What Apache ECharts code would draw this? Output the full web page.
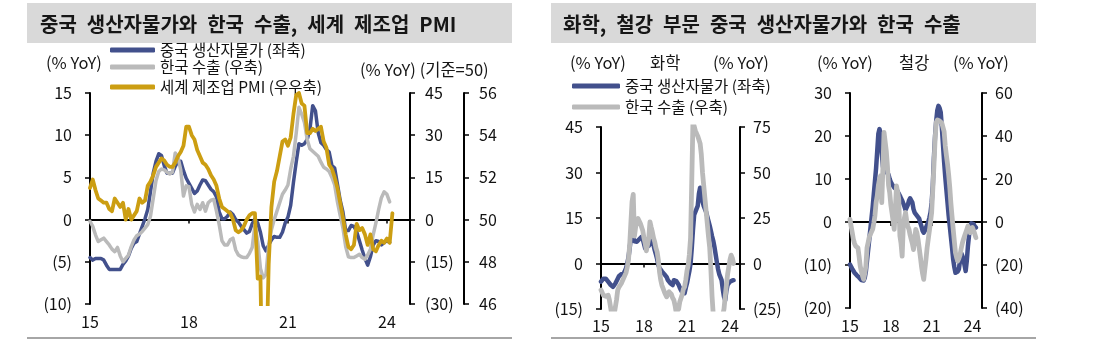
<!DOCTYPE html>
<html>
<head>
<meta charset="utf-8">
<script src="https://cdn.jsdelivr.net/npm/echarts@6/dist/echarts.min.js"></script>
<style>
html,body{margin:0;padding:0;background:#fff}
#c{width:1095px;height:341px}
</style>
</head>
<body>
<div id="c"></div>
<script>
// Monthly series, first value = Jan 2015
const START_YEAR = 2015;
const xTickYears = [2015, 2018, 2021, 2024];

// Left panel: China PPI (% YoY, left axis)
const chinaPpi = [
  -4.5,-4.8,-4.6,-4.6,-4.6,-4.8,-5.4,-5.9,-5.9,-5.9,-5.9,-5.9,
  -5.3,-4.9,-4.3,-3.4,-2.8,-2.6,-1.7,-0.8,0.1,1.2,3.3,5.5,
  6.9,7.8,7.6,6.4,5.5,5.5,5.5,6.3,6.9,6.9,5.8,4.9,
  4.3,3.7,3.1,3.4,4.1,4.7,4.6,4.1,3.6,3.3,2.7,0.9,
  0.1,0.1,0.4,0.9,0.6,0.0,-0.3,-0.8,-1.2,-1.6,-1.4,-0.5,
  0.1,-0.4,-1.5,-3.1,-3.7,-3.0,-2.4,-2.0,-2.1,-2.1,-1.5,-0.4,
  0.3,1.7,4.4,6.8,9.0,8.8,9.0,9.5,10.7,13.5,12.9,10.3,
  9.1,8.8,8.3,8.0,6.4,6.1,4.2,2.3,0.9,-1.3,-1.3,-0.7,
  -0.8,-1.4,-2.5,-3.6,-4.6,-5.4,-4.4,-3.0,-2.5,-2.6,-3.0,-2.7,
  -2.5,-2.7
];
// Left panel: Korea exports (% YoY, right axis)
const koreaExports = [
  -0.6,-2.4,-5.4,-7.8,-7.2,-6.6,-7.8,-9.0,-10.5,-11.4,-9.9,-12.9,
  -15.0,-13.8,-12.6,-9.6,-7.2,-5.7,-5.1,-4.2,-3.0,-1.8,1.2,7.5,
  13.8,17.1,18.0,17.7,16.8,16.2,16.8,23.7,22.2,17.7,8.4,12.0,
  11.7,5.4,2.7,5.4,3.6,6.0,3.0,6.0,6.9,7.2,3.0,-1.8,
  -7.5,-9.0,-9.0,-7.2,-6.6,-10.8,-12.6,-13.2,-13.5,-13.5,-12.0,-9.9,
  -1.8,-7.8,-17.4,-20.7,-19.5,-9.0,-3.6,0.0,3.0,6.0,9.0,10.5,
  12.3,18.0,22.5,30.6,39.9,37.5,34.5,28.5,25.2,24.3,23.4,22.5,
  20.4,18.6,18.0,17.1,15.0,12.3,6.3,1.5,-3.0,-9.6,-13.2,-13.5,
  -13.5,-12.9,-12.3,-13.5,-14.1,-12.6,-10.5,-5.4,-1.2,3.6,7.8,9.9,
  9.0,6.3
];
// Left panel: global manufacturing PMI (index, second right axis)
const globalPmi = [
  51.5,51.9,51.4,51.0,50.9,50.8,50.8,50.5,50.4,51.0,50.8,50.6,
  50.8,50.0,50.5,50.0,50.2,50.4,51.0,50.8,50.9,51.6,51.8,52.1,
  52.5,52.7,52.9,52.8,52.6,52.5,52.5,52.7,53.0,53.2,53.5,54.4,
  54.4,54.0,53.8,53.3,53.0,52.7,52.6,52.4,52.1,51.9,51.6,51.0,
  50.6,50.5,50.4,50.3,50.0,49.5,49.4,49.5,49.7,50.0,50.2,50.3,
  50.3,47.2,47.3,39.6,42.4,47.9,50.6,51.8,52.3,53.0,53.7,53.8,
  53.5,53.9,55.0,55.9,56.0,55.5,55.4,54.1,54.1,54.3,54.2,54.3,
  54.4,53.7,53.4,52.6,52.4,52.0,51.5,50.8,50.1,49.3,48.7,48.6,
  48.8,49.8,49.5,49.6,49.3,48.8,49.3,48.6,48.5,48.8,49.0,48.9,
  49.1,48.9,50.3
];

// Chemicals: China PPI (left axis) and Korea exports (right axis)
const chemPpi = [
  -6.0,-5.5,-5.0,-4.8,-5.0,-5.5,-6.0,-6.6,-7.0,-7.5,-7.7,-7.2,
  -6.6,-6.0,-5.0,-4.2,-3.8,-3.5,-3.3,-3.3,-2.5,-1.5,0.0,2.0,
  5.0,8.5,10.4,8.5,7.3,7.0,7.2,7.6,8.0,8.5,8.8,8.0,
  6.5,5.0,5.5,6.5,5.8,6.0,7.5,8.0,6.0,4.4,3.0,1.5,
  -0.5,-1.5,-2.0,-2.6,-3.0,-3.5,-3.8,-4.5,-5.5,-6.0,-6.5,-7.0,
  -7.1,-5.5,-5.3,-5.8,-6.0,-7.0,-8.0,-8.8,-9.5,-9.9,-9.8,-8.0,
  -6.5,-4.5,-2.5,0.0,5.0,11.0,16.0,17.0,18.0,19.0,23.0,25.0,
  22.5,20.5,19.0,18.0,17.0,15.5,14.0,12.5,10.8,9.0,7.5,5.5,
  3.0,0.5,-1.8,-3.5,-4.5,-5.5,-8.5,-11.0,-12.1,-9.0,-7.0,-6.5,
  -6.0,-5.8,-5.6,-5.5
];
const chemExports = [
  -14.6,-16.0,-17.5,-18.3,-18.0,-17.5,-17.4,-20.0,-24.0,-28.0,-28.0,-28.0,
  -28.0,-20.0,-14.6,-13.0,-12.0,-11.0,-9.5,-8.0,-7.3,-5.0,-2.0,2.0,
  10.0,22.0,34.0,38.0,15.0,20.0,23.0,24.7,24.0,22.0,21.0,18.0,
  14.0,11.0,7.0,6.4,14.0,22.9,20.0,17.4,14.0,11.9,8.5,6.4,
  2.0,-4.6,-9.0,-12.0,-13.7,-15.5,-17.0,-18.3,-17.0,-15.5,-14.6,-17.0,
  -19.0,-20.1,-23.0,-27.0,-28.0,-25.0,-21.0,-20.1,-17.0,-14.0,-12.8,-9.0,
  -4.0,-1.0,5.0,14.0,45.0,78.0,78.0,73.0,72.0,70.0,68.0,66.0,
  60.0,50.0,43.0,36.0,29.0,22.0,15.0,9.0,-3.0,-18.0,-28.0,-28.0,
  -28.0,-28.0,-28.0,-28.0,-28.0,-28.0,-28.0,-25.0,-18.3,-12.0,-6.0,-1.8,
  2.0,4.6,3.0,0.0
];

// Steel: China PPI (left axis) and Korea exports (right axis)
const steelPpi = [
  -9.9,-10.4,-10.9,-11.3,-11.8,-12.1,-12.4,-12.6,-12.9,-13.2,-13.5,-13.8,
  -13.6,-13.0,-11.5,-9.0,-6.5,-4.0,-1.5,1.0,3.5,6.5,9.5,12.5,
  16.5,20.5,21.6,20.5,16.0,13.0,11.5,11.5,12.0,12.3,11.0,10.0,
  9.3,8.8,8.4,8.0,7.8,7.6,7.1,6.6,6.1,5.5,5.0,4.6,
  3.6,2.8,2.6,4.0,5.0,5.5,5.7,4.5,3.0,2.2,1.8,1.5,
  1.4,0.8,-0.2,-1.0,-2.0,-2.5,-2.0,-1.3,-0.9,0.0,1.0,2.2,
  4.5,8.4,15.0,20.0,23.5,26.0,27.0,26.5,25.5,22.0,18.0,14.0,
  10.5,7.5,4.5,1.5,-1.0,-3.5,-6.0,-8.7,-10.5,-11.8,-12.0,-11.5,
  -11.0,-9.0,-7.2,-7.8,-8.7,-10.0,-11.4,-9.0,-5.6,-3.0,-0.9,-0.3,
  0.0,-0.5,-1.0,-1.3
];
const steelExports = [
  1.2,-2.0,-5.0,-8.1,-10.0,-11.2,-11.5,-12.0,-16.0,-20.5,-23.0,-25.0,
  -26.7,-24.0,-20.5,-12.0,-9.6,-7.0,-5.8,-4.5,-3.4,-0.5,3.0,9.0,
  12.1,17.0,19.9,21.5,9.0,25.0,41.7,41.7,33.0,26.1,17.0,13.7,
  8.0,4.4,0.5,-3.4,6.0,16.8,14.0,10.6,-6.5,-10.0,-15.9,-1.9,
  2.0,4.4,0.5,-2.0,-3.4,-6.0,-8.1,-10.0,-12.8,-8.0,-3.4,-5.0,
  -8.1,-12.0,-16.0,-20.5,-24.0,-26.7,-22.0,-17.4,-12.0,-8.0,-4.0,0.0,
  4.4,15.0,26.1,38.0,46.3,47.5,47.9,47.0,46.3,46.0,45.6,42.0,
  35.5,31.0,27.0,22.0,16.0,8.5,2.5,-3.4,-9.0,-14.3,-16.5,-18.2,
  -17.0,-15.5,-12.5,-10.0,-8.1,-6.5,-5.0,-3.5,-1.9,-3.0,-5.0,-4.0,
  -2.6,-4.0,-5.5,-7.3
];

const TITLE_LEFT = '중국 생산자물가와 한국 수출, 세계 제조업 PMI';
const TITLE_RIGHT = '화학, 철강 부문 중국 생산자물가와 한국 수출';
const NAME_PPI = '중국 생산자물가 (좌축)';
const NAME_EXP = '한국 수출 (우축)';
const NAME_PMI = '세계 제조업 PMI (우우축)';

const C_BLUE = '#42508c';
const C_GREY = '#bababa';
const C_GOLD = '#cc9e12';
const FONT = "'Noto Sans CJK KR', 'Noto Sans', sans-serif";
const TICK_SIZE = 16;
const UNIT_SIZE = 16.5;

const toPoints = arr => arr.map((v, i) => [START_YEAR + i / 12, v]);
const fmtNeg = v => (v < 0 ? '(' + (-v) + ')' : String(v));
const fmtYear = v => String(Math.round(v)).slice(2);
// headline typography uses wide word gaps
const wideGaps = s => s.split(' ').join('\u2002');

function labelAxis(grid, max, margin) {
  return {
    type: 'value', gridIndex: grid, min: START_YEAR, max: max, position: 'bottom',
    axisLine: { show: false, onZero: false }, axisTick: { show: false }, splitLine: { show: false },
    axisLabel: { customValues: xTickYears, formatter: fmtYear, margin: margin, fontSize: TICK_SIZE, color: '#111', fontFamily: FONT }
  };
}
function zeroAxis(grid, max, yIndex) {
  return {
    type: 'value', gridIndex: grid, min: START_YEAR, max: max, position: 'bottom',
    axisLine: { show: true, onZero: true, onZeroAxisIndex: yIndex, lineStyle: { color: '#000', width: 2 } },
    axisTick: { show: true, customValues: xTickYears, length: 4, lineStyle: { color: '#000', width: 1.5 } },
    axisLabel: { show: false }, splitLine: { show: false }
  };
}
function yAx(grid, pos, min, max, step, margin, offset, fmt) {
  return {
    type: 'value', gridIndex: grid, position: pos, offset: offset || 0,
    min: min, max: max, interval: step,
    axisLine: { show: true, onZero: false, lineStyle: { color: '#000', width: 2 } },
    axisTick: { show: true, length: 5, lineStyle: { color: '#000', width: 1.5 } },
    splitLine: { show: false },
    axisLabel: { formatter: fmt || fmtNeg, margin: margin, fontSize: TICK_SIZE, color: '#111', fontFamily: FONT }
  };
}
function line(name, data, xi, yi, color, width, z) {
  return {
    name: name, type: 'line', xAxisIndex: xi, yAxisIndex: yi, data: toPoints(data),
    showSymbol: false, symbol: 'none', clip: true, z: z,
    lineStyle: { color: color, width: width, cap: 'round', join: 'round' },
    itemStyle: { color: color }
  };
}
function legendBox(left, top, names, w, gap) {
  return {
    left: left, top: top, orient: 'vertical', padding: 0, itemGap: gap || 0,
    icon: 'roundRect', itemWidth: w, itemHeight: 5, selectedMode: false,
    data: names,
    textStyle: { fontSize: 15.5, color: '#111', fontFamily: FONT, lineHeight: 16 }
  };
}
function txt(x, y, s, size, weight) {
  return {
    type: 'text', x: x, y: y,
    style: { text: s, fontSize: size || UNIT_SIZE, fontWeight: weight || 'normal', fontFamily: FONT, fill: '#161616', textVerticalAlign: 'middle' }
  };
}

const chart = echarts.init(document.getElementById('c'), null, { renderer: 'canvas' });
chart.setOption({
  animation: false,
  backgroundColor: '#fff',
  textStyle: { fontFamily: FONT },
  grid: [
    { left: 90, top: 93, width: 320, height: 211 },
    { left: 601, top: 127, width: 139, height: 182 },
    { left: 850, top: 93, width: 132, height: 215 }
  ],
  xAxis: [
    labelAxis(0, 2024.7, 10), zeroAxis(0, 2024.7, 0),
    labelAxis(1, 2024.7, 9), zeroAxis(1, 2024.7, 3),
    labelAxis(2, 2024.7, 10), zeroAxis(2, 2024.7, 5)
  ],
  yAxis: [
    yAx(0, 'left', -10, 15, 5, 18),
    yAx(0, 'right', -30, 45, 15, 15),
    yAx(0, 'right', 46, 56, 2, 15, 54, v => String(v)),
    yAx(1, 'left', -15, 45, 15, 18),
    yAx(1, 'right', -25, 75, 25, 13),
    yAx(2, 'left', -20, 30, 10, 18),
    yAx(2, 'right', -40, 60, 20, 13)
  ],
  legend: [
    legendBox(110, 42, [NAME_PPI], 45),
    legendBox(110, 59, [NAME_EXP], 45),
    legendBox(110, 79, [NAME_PMI], 45),
    legendBox(572, 78, [NAME_PPI, NAME_EXP], 48, 5)
  ],
  series: [
    line(NAME_PPI, chinaPpi, 0, 0, C_BLUE, 3.5, 2),
    line(NAME_EXP, koreaExports, 0, 1, C_GREY, 3.5, 3),
    line(NAME_PMI, globalPmi, 0, 2, C_GOLD, 3.8, 4),
    line(NAME_PPI, chemPpi, 2, 3, C_BLUE, 4.5, 2),
    line(NAME_EXP, chemExports, 2, 4, C_GREY, 4.8, 3),
    line(NAME_PPI, steelPpi, 4, 5, C_BLUE, 4.5, 2),
    line(NAME_EXP, steelExports, 4, 6, C_GREY, 4.8, 3)
  ],
  graphic: [
    { type: 'rect', shape: { x: 27, y: 3, width: 485, height: 40 }, style: { fill: '#d9d9d9' }, z: -1 },
    { type: 'rect', shape: { x: 551, y: 3, width: 485, height: 40 }, style: { fill: '#d9d9d9' }, z: -1 },
    txt(40, 24, wideGaps(TITLE_LEFT), 20, 'bold'),
    txt(563, 24, wideGaps(TITLE_RIGHT), 20, 'bold'),
    { type: 'line', shape: { x1: 27, y1: 338, x2: 512, y2: 338 }, style: { stroke: '#a6a6a6', lineWidth: 2 } },
    { type: 'line', shape: { x1: 551, y1: 338, x2: 1036, y2: 338 }, style: { stroke: '#a6a6a6', lineWidth: 2 } },
    txt(46, 63, '(% YoY)'),
    txt(360, 70, '(% YoY) (기준=50)'),
    txt(570, 63, '(% YoY)'),
    txt(650, 63, '화학'),
    txt(713, 63, '(% YoY)'),
    txt(817, 63, '(% YoY)'),
    txt(899, 63, '철강'),
    txt(953, 63, '(% YoY)')
  ]
});
</script>
</body>
</html>
